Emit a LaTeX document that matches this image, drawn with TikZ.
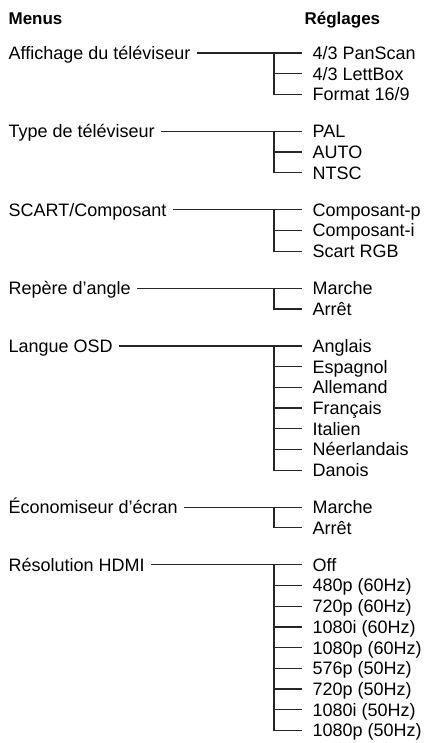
\documentclass[tikz,border=0pt]{standalone}
\usepackage{fontspec}
\setmainfont{Liberation Sans}
\begin{document}
\begin{tikzpicture}[x=1pt, y=-1pt, line width=1.2pt, draw=black!85,
    menu/.style = {anchor=west, inner xsep=6pt, inner ysep=0pt, text height=12.9pt, text depth=0pt, font=\fontsize{18}{20}\selectfont},
    opt/.style = {menu, inner xsep=10pt},
    head/.style = {menu, font=\fontsize{17}{20}\selectfont\bfseries}]
				\useasboundingbox (0,0) rectangle (426,743);
				\coordinate (trunk) at (274,0);
				% titres
				\node[head] (menus) at (2,18) {Menus};
				\node[head] (regl) at (298,18) {Réglages};
				% menus
				\node[menu] (aff) at (2,53) {Affichage du téléviseur};
				\node[menu] (type) at (2,131.4) {Type de téléviseur};
				\node[menu] (scart) at (2,209.8) {SCART/Composant};
				\node[menu] (rep) at (2,288.2) {Repère d’angle};
				\node[menu] (lang) at (2,345.9) {Langue OSD};
				\node[menu] (eco) at (2,507.1) {Économiseur d’écran};
				\node[menu] (hdmi) at (2,564.8) {Résolution HDMI};
				% reglages
				\node[opt] (aff1) at (302,53) {4/3 PanScan};
				\node[opt] (aff2) at (302,73.7) {4/3 LettBox};
				\node[opt] (aff3) at (302,94.4) {Format 16/9};
				\node[opt] (type1) at (302,131.4) {PAL};
				\node[opt] (type2) at (302,152.1) {AUTO};
				\node[opt] (type3) at (302,172.8) {NTSC};
				\node[opt] (scart1) at (302,209.8) {Composant-p};
				\node[opt] (scart2) at (302,230.5) {Composant-i};
				\node[opt] (scart3) at (302,251.2) {Scart RGB};
				\node[opt] (rep1) at (302,288.2) {Marche};
				\node[opt] (rep2) at (302,308.9) {Arrêt};
				\node[opt] (lang1) at (302,345.9) {Anglais};
				\node[opt] (lang2) at (302,366.6) {Espagnol};
				\node[opt] (lang3) at (302,387.3) {Allemand};
				\node[opt] (lang4) at (302,408.0) {Français};
				\node[opt] (lang5) at (302,428.7) {Italien};
				\node[opt] (lang6) at (302,449.4) {Néerlandais};
				\node[opt] (lang7) at (302,470.1) {Danois};
				\node[opt] (eco1) at (302,507.1) {Marche};
				\node[opt] (eco2) at (302,527.8) {Arrêt};
				\node[opt] (hdmi1) at (302,564.8) {Off};
				\node[opt] (hdmi2) at (302,585.5) {480p (60Hz)};
				\node[opt] (hdmi3) at (302,606.2) {720p (60Hz)};
				\node[opt] (hdmi4) at (302,626.9) {1080i (60Hz)};
				\node[opt] (hdmi5) at (302,647.6) {1080p (60Hz)};
				\node[opt] (hdmi6) at (302,668.3) {576p (50Hz)};
				\node[opt] (hdmi7) at (302,689.0) {720p (50Hz)};
				\node[opt] (hdmi8) at (302,709.7) {1080i (50Hz)};
				\node[opt] (hdmi9) at (302,730.4) {1080p (50Hz)};
				% liaisons
				\draw (aff.east) -- (aff1.west);
				\draw (aff1.west -| trunk) |- (aff3.west);
				\draw (aff2.west -| trunk) -- (aff2.west);
				\draw (type.east) -- (type1.west);
				\draw (type1.west -| trunk) |- (type3.west);
				\draw (type2.west -| trunk) -- (type2.west);
				\draw (scart.east) -- (scart1.west);
				\draw (scart1.west -| trunk) |- (scart3.west);
				\draw (scart2.west -| trunk) -- (scart2.west);
				\draw (rep.east) -- (rep1.west);
				\draw (rep1.west -| trunk) |- (rep2.west);
				\draw (lang.east) -- (lang1.west);
				\draw (lang1.west -| trunk) |- (lang7.west);
				\draw (lang2.west -| trunk) -- (lang2.west);
				\draw (lang3.west -| trunk) -- (lang3.west);
				\draw (lang4.west -| trunk) -- (lang4.west);
				\draw (lang5.west -| trunk) -- (lang5.west);
				\draw (lang6.west -| trunk) -- (lang6.west);
				\draw (eco.east) -- (eco1.west);
				\draw (eco1.west -| trunk) |- (eco2.west);
				\draw (hdmi.east) -- (hdmi1.west);
				\draw (hdmi1.west -| trunk) |- (hdmi9.west);
				\draw (hdmi2.west -| trunk) -- (hdmi2.west);
				\draw (hdmi3.west -| trunk) -- (hdmi3.west);
				\draw (hdmi4.west -| trunk) -- (hdmi4.west);
				\draw (hdmi5.west -| trunk) -- (hdmi5.west);
				\draw (hdmi6.west -| trunk) -- (hdmi6.west);
				\draw (hdmi7.west -| trunk) -- (hdmi7.west);
				\draw (hdmi8.west -| trunk) -- (hdmi8.west);
\end{tikzpicture}
\end{document}
